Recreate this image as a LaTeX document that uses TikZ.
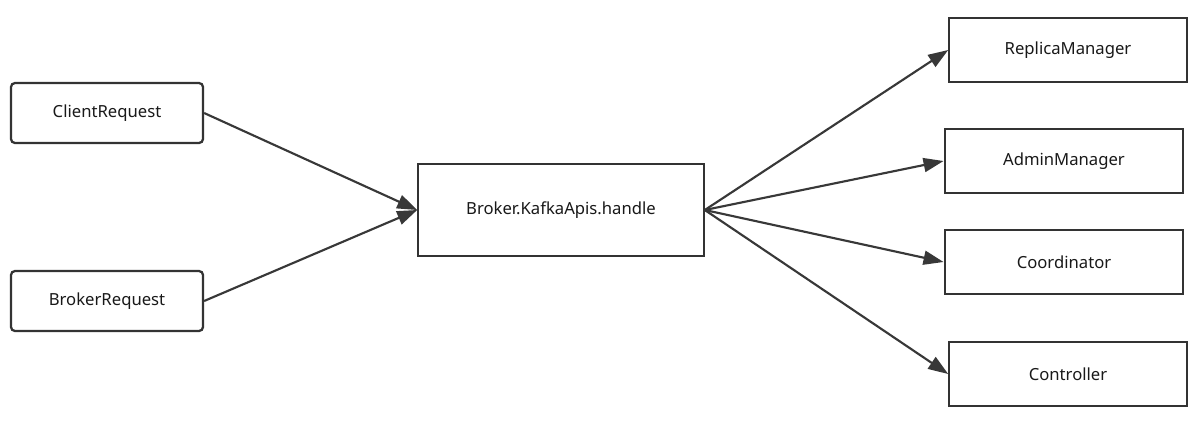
\documentclass[tikz,border=0pt]{standalone}
\usepackage{fontspec}
\setmainfont{Noto Sans}
\usetikzlibrary{arrows.meta, positioning}

\begin{document}
\begin{tikzpicture}[x=0.75pt, y=-0.75pt]
		\tikzset{box/.style={draw=black!80, line width=1.7pt, fill=white, inner sep=0, font=\fontsize{12.5}{14}\selectfont, text=black!90}}
		\tikzset{rbox/.style={box, rounded corners=3pt}}
		\tikzset{ar/.style={-{Triangle[length=15pt, width=10.5pt]}, draw=black!78, line width=1.6pt}}
		\useasboundingbox (0,0) rectangle (1200,426);
		\node[rbox, minimum width=144pt, minimum height=45pt] at (107, 113) (cr) {ClientRequest};
		\node[rbox, minimum width=144pt, minimum height=45pt] at (107, 301) (br) {BrokerRequest};
		\node[box, minimum width=214pt, minimum height=69pt] at (561, 210) (api) {Broker.KafkaApis.handle};
		\node[box, minimum width=178pt, minimum height=48pt] at (1068, 50) (rm) {ReplicaManager};
		\node[box, minimum width=179pt, minimum height=48pt] at (1064, 161) (am) {AdminManager};
		\node[box, minimum width=179pt, minimum height=48pt] at (1064, 262) (co) {Coordinator};
		\node[box, minimum width=178pt, minimum height=48pt] at (1068, 374) (ct) {Controller};
		\path (cr.east) edge[ar] (api.west);
		\path (br.east) edge[ar] (api.west);
		\path (api.east) edge[ar] (rm.west);
		\path (api.east) edge[ar] (am.west);
		\path (api.east) edge[ar] (co.west);
		\path (api.east) edge[ar] (ct.west);
	\end{tikzpicture}
\end{document}
